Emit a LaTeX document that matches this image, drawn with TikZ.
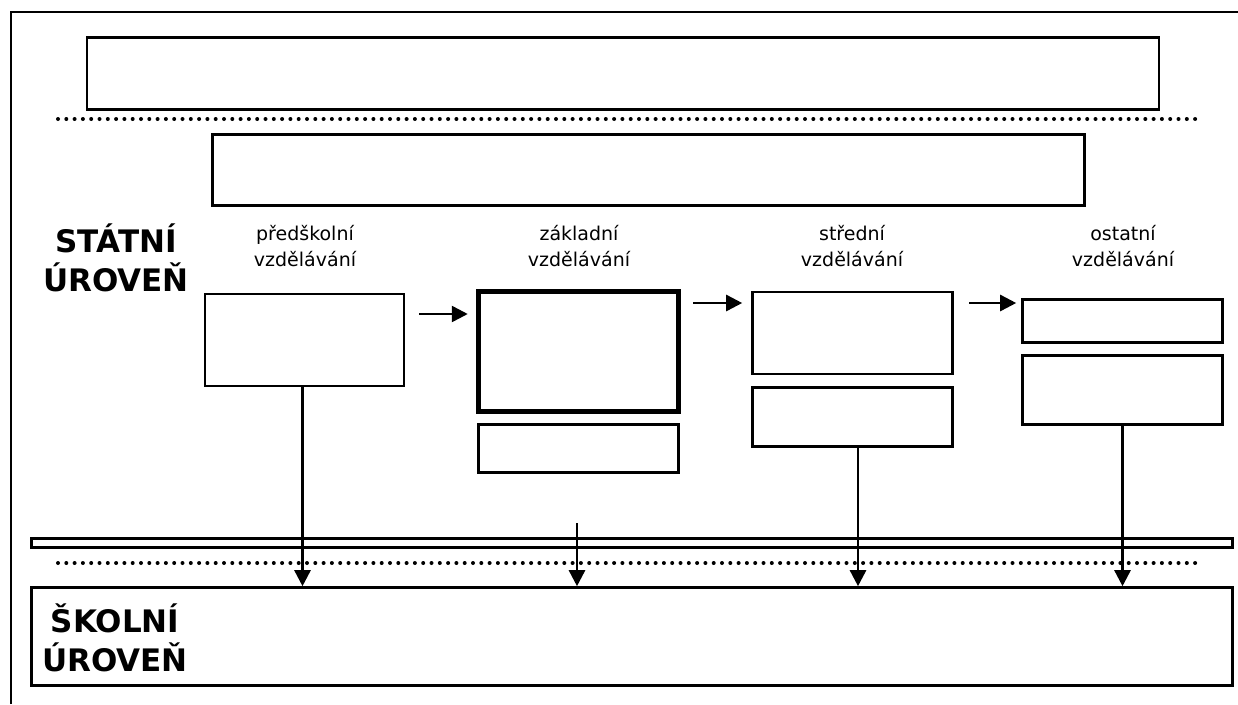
\documentclass[tikz,border=0pt]{standalone}
\usepackage{fontspec}
\newfontfamily\labfont{DejaVu Sans}
\usetikzlibrary{arrows.meta}

\begin{document}
\begin{tikzpicture}[x=1pt,y=-1pt,
		box/.style={draw,line width=2.6pt,inner sep=0pt},
		arr/.style={line width=2.6pt,-{Triangle[length=16pt,width=16pt]}},
		dots/.style={line width=4pt,line cap=round,dash pattern=on 0pt off 8.3pt},
		level/.style={font=\labfont\bfseries\fontsize{31}{39}\selectfont,align=center,anchor=base},
		kind/.style={font=\labfont\fontsize{19}{26}\selectfont,align=center,anchor=base}]
		\useasboundingbox (0,0) rectangle (1238,704);
		\draw[line width=2.8pt] (11,704) -- (11,12) -- (1238,12);
		\node[box,minimum width=1072,minimum height=72] (top) at (623,73.5) {};
		\draw[dots] (58,119) -- (1203,119);
		\node[box,minimum width=872,minimum height=71] (plan) at (648.5,170) {};
		\node[level] (state) at (116,291) {STÁTNÍ\\ÚROVEŇ};
		\node[kind] (k1) at (305,266) {předškolní\\vzdělávání};
		\node[kind] (k2) at (579,266) {základní\\vzdělávání};
		\node[kind] (k3) at (852,266) {střední\\vzdělávání};
		\node[kind] (k4) at (1123,266) {ostatní\\vzdělávání};
		\node[box,minimum width=199,minimum height=92] (b1) at (304.5,340) {};
		\node[box,line width=5.5pt,minimum width=200,minimum height=120] (b2) at (578.5,351.5) {};
		\node[box,minimum width=200,minimum height=48] (b2b) at (578.5,448.5) {};
		\node[box,minimum width=200,minimum height=82] (b3) at (852.5,333) {};
		\node[box,minimum width=200,minimum height=59] (b3b) at (852.5,417) {};
		\node[box,minimum width=200,minimum height=43] (b4) at (1122.5,321) {};
		\node[box,minimum width=200,minimum height=69] (b4b) at (1122.5,390) {};
		\coordinate (a1) at (419,314);
		\coordinate (a2) at (693,303);
		\coordinate (a3) at (969,303);
		\draw[arr] (a1) -- ([xshift=-8pt]b2.west |- a1);
		\draw[arr] (a2) -- ([xshift=-9pt]b3.west |- a2);
		\draw[arr] (a3) -- ([xshift=-5pt]b4.west |- a3);
		\node[box,minimum width=1201,minimum height=9] (bar) at (632,543) {};
		\draw[dots] (58,563) -- (1200,563);
		\node[box,minimum width=1201,minimum height=98] (school) at (632,636.5) {};
		\node[level] (schoollab) at (115,671) {ŠKOLNÍ\\ÚROVEŇ};
		\coordinate (c2) at (577,523);
		\draw[arr] ([xshift=-2pt]b1.south) -- ([xshift=-2pt]b1.south |- school.north);
		\draw[arr] (c2) -- (c2 |- school.north);
		\draw[arr] ([xshift=5.5pt]b3b.south) -- ([xshift=5.5pt]b3b.south |- school.north);
		\draw[arr] (b4b.south) -- (b4b.south |- school.north);
\end{tikzpicture}
\end{document}
